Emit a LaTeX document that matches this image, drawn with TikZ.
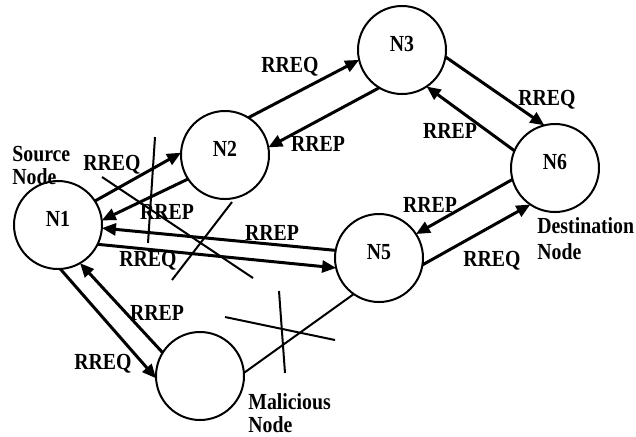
\documentclass[tikz,border=0pt]{standalone}
\usepackage{fontspec}
\setmainfont{Liberation Serif}[FakeStretch=0.86]
\usetikzlibrary{arrows.meta}
\begin{document}
\begin{tikzpicture}[x=0.5pt,y=-0.5pt,
  nd/.style={circle,draw,line width=1pt,minimum size=44pt,inner sep=0pt,outer sep=0pt},
  arr/.style={line width=1.5pt,-{Triangle[length=7pt,width=6pt]}},
  lbl/.style={font=\fontsize{11.5}{12}\selectfont\bfseries,inner sep=0pt},
  txt/.style={inner sep=0pt,align=left,anchor=north west},
  crs/.style={line width=1pt}]
\useasboundingbox (0,0) rectangle (636,436);
% nodes
\node[nd,label={[lbl,yshift=3pt]center:N1}] (N1) at (58,225) {};
\node[nd,label={[lbl,yshift=3pt]center:N2}] (N2) at (225,155) {};
\node[nd,label={[lbl,yshift=3pt]center:N3}] (N3) at (402,50) {};
\node[nd,label={[lbl,yshift=3pt]center:N6}] (N6) at (555,168) {};
\node[nd,label={[lbl,yshift=3pt]center:N5}] (N5) at (379,258) {};
\node[nd] (M) at (200,376) {};
% connectors
\draw[arr] (N1.33) -- (N2.177);
\draw[arr] (N2.213) -- (N1.6);
\draw[arr] (N5.170) -- (N1.-4);
\draw[arr] (N1.-26) -- (N5.193);
\draw[arr] (N2.58) -- (N3.193);
\draw[arr] (N3.239) -- (N2.10);
\draw[arr] (N3.-9) -- (N6.104);
\draw[arr] (N6.157) -- (N3.-56);
\draw[arr] (N6.195) -- (N5.33);
\draw[arr] (N5.-9) -- (N6.236);
\draw[arr] (N1.-87) -- (M.183);
\draw[arr] (M.148) -- (N1.-60);
\draw[line width=1pt] (M.4) -- (N5.235);
% crosses
\draw[crs] (102,177) -- (253,278);
\draw[crs] (155,137) -- (148,243);
\draw[crs] (232,202) -- (172,280);
\draw[crs] (225,317) -- (335,340);
\draw[crs] (279,291) -- (285,373);
% labels
\node[lbl] (l1) at (112,165) {RREQ};
\node[lbl] (l2) at (167,212) {RREP};
\node[lbl] (l3) at (272,233) {RREP};
\node[lbl] (l4) at (148,261) {RREQ};
\node[lbl] (l5) at (290,67) {RREQ};
\node[lbl] (l6) at (318,144) {RREP};
\node[lbl] (l7) at (547,100) {RREQ};
\node[lbl] (l8) at (450,131) {RREP};
\node[lbl] (l9) at (430,205) {RREP};
\node[lbl] (l10) at (492,261) {RREQ};
\node[lbl] (l11) at (103,364) {RREQ};
\node[lbl] (l12) at (157,313) {RREP};
\node[txt,font=\fontsize{11.5}{11.5}\selectfont\bfseries] (src) at (12,146) {Source\\Node};
\node[txt,font=\fontsize{11.5}{11.5}\selectfont\bfseries] (mal) at (248,393) {Malicious\\Node};
\node[txt,font=\fontsize{11.5}{13}\selectfont\bfseries] (dst) at (537,217) {Destination\\Node};
\end{tikzpicture}
\end{document}
